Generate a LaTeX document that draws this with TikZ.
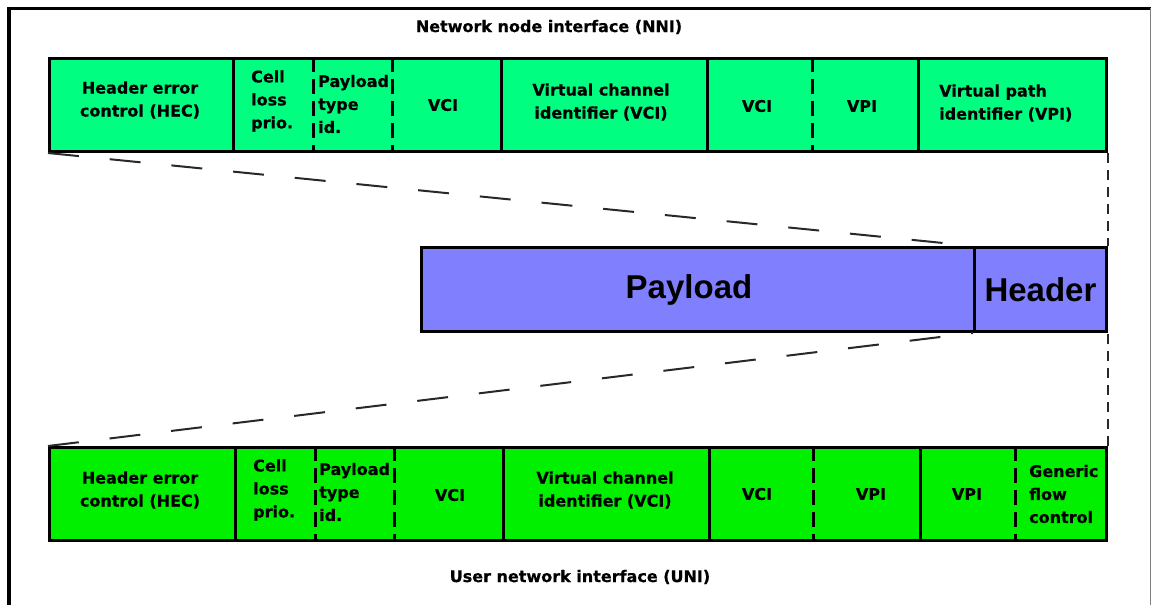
\documentclass[tikz,border=0pt]{standalone}
\usepackage{fontspec}
\setmainfont{DejaVu Sans}[BoldFeatures={FakeBold=0.6}]
\newfontfamily\bigfont{Liberation Sans}
\definecolor{nnigreen}{RGB}{0,255,128}
\definecolor{unigreen}{RGB}{0,240,0}
\definecolor{paycol}{RGB}{128,128,255}
\definecolor{dashgray}{RGB}{40,40,40}
\tikzset{
  lab/.style={font=\fontsize{16}{23}\selectfont\bfseries, inner sep=0pt, align=center},
  labl/.style={lab, align=left, anchor=west},
  rowbox/.style={draw=black, line width=3pt, anchor=north west, inner sep=0pt,
                 minimum width=1057pt, minimum height=93pt},
  soliddiv/.style={line width=3pt, black},
  dashdiv/.style={line width=3pt, black, dash pattern=on 15pt off 7pt},
  zoomline/.style={line width=2pt, dashgray, dash pattern=on 31pt off 31pt},
  edgeline/.style={line width=1.6pt, dashgray, dash pattern=on 10pt off 7pt},
  cellbox/.style={draw=black, line width=3pt, anchor=north west, inner sep=0pt,
                  fill=paycol, minimum height=84pt,
                  font=\fontsize{33}{36}\selectfont\bigfont\bfseries},
}
\begin{document}
\begin{tikzpicture}[x=1pt,y=-1pt]
\useasboundingbox (0,0) rectangle (1152,605);
% frame
\draw[line width=4pt] (9,605) -- (9,8);
\draw[line width=3pt] (7,8) -- (1151,8);
\draw[line width=1.5pt, gray] (1150.5,8) -- (1150.5,605);

% titles
\node[lab] (nnititle) at (549,27) {Network node interface (NNI)};
\node[lab] (unititle) at (580,577) {User network interface (UNI)};

% NNI row
\node[rowbox, fill=nnigreen] (nni) at (48,57) {};
\foreach \x in {233,501,707,918} \draw[soliddiv] (\x,57) -- (\x,150);
\foreach \x in {313,392,812} \draw[dashdiv] (\x,57) -- (\x,150);
\node[lab] (n1) at (140,100) {Header error\\control (HEC)};
\node[labl] (n2) at (251,101) {Cell\\loss\\prio.};
\node[labl] (n3) at (318,104) {Payload\\type\\id.};
\node[lab] (n4) at (443,105) {VCI};
\node[lab] (n5) at (601,102) {Virtual channel\\identifier (VCI)};
\node[lab] (n6) at (757,106) {VCI};
\node[lab] (n7) at (862,106) {VPI};
\node[labl] (n8) at (939,103) {Virtual path\\identifier (VPI)};

% UNI row
\node[rowbox, fill=unigreen] (uni) at (48,446) {};
\foreach \x in {235,503,709,920} \draw[soliddiv] (\x,446) -- (\x,539);
\foreach \x in {315,394,813,1015} \draw[dashdiv] (\x,446) -- (\x,539);
\node[lab] (u1) at (140,490) {Header error\\control (HEC)};
\node[labl] (u2) at (253,490) {Cell\\loss\\prio.};
\node[labl] (u3) at (319,492) {Payload\\type\\id.};
\node[lab] (u4) at (450,495) {VCI};
\node[lab] (u5) at (605,490) {Virtual channel\\identifier (VCI)};
\node[lab] (u6) at (757,494) {VCI};
\node[lab] (u7) at (871,494) {VPI};
\node[lab] (u8) at (967,494) {VPI};
\node[labl] (u9) at (1029,494) {Generic\\flow\\control};

% cell
\node[cellbox, minimum width=553pt] (payload) at (420,246) {Payload\kern18pt\relax};
\node[cellbox, minimum width=132pt] (header) at (973,246) {Header};

% zoom lines
\draw[zoomline] (nni.south west) -- (header.north west);
\draw[zoomline] (uni.north west) -- (header.south west);
\draw[edgeline] (nni.south east) -- (header.north east);
\draw[edgeline] (uni.north east) -- (header.south east);
\end{tikzpicture}
\end{document}
